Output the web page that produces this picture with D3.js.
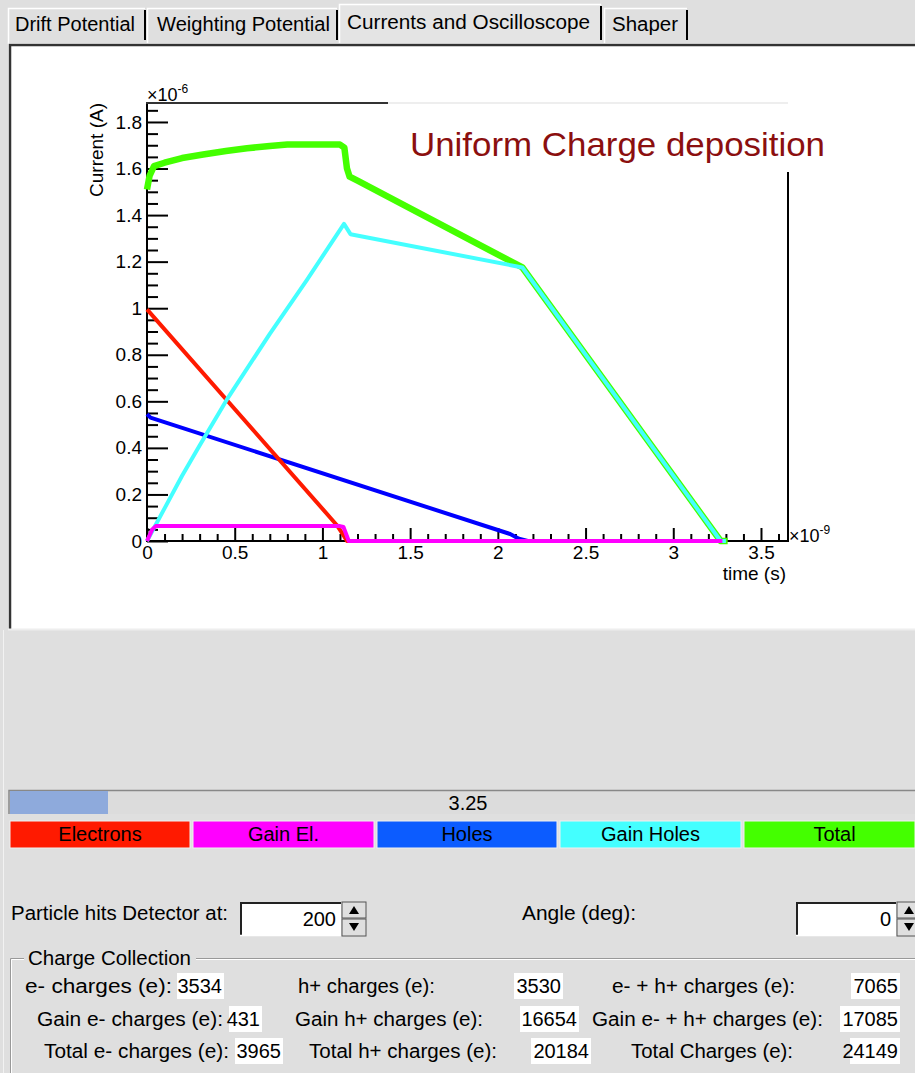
<!DOCTYPE html>
<html><head><meta charset="utf-8">
<script src="https://cdn.jsdelivr.net/npm/d3@7"></script>
<style>
html,body{margin:0;padding:0;background:#dfdfdf;}
svg{display:block;}
text{font-family:"Liberation Sans",Arial,sans-serif;}
</style></head>
<body>
<svg id="c" width="915" height="1073"></svg>
<script>
// ---------- data (time in ns, current in µA) ----------
const electrons = [[0,0.995],[1.08,0.07],[1.12,0.025],[1.14,0],[3.28,0]];
const gainEl    = [[0,0],[0.03,0.05],[0.05,0.064],[1.10,0.064],[1.12,0.06],[1.135,0.03],[1.15,0],[3.28,0]];
const holes     = [[0,0.545],[0.02,0.53],[2.07,0.03],[2.12,0.01],[2.17,0]];
const gainHoles = [[0,0],[0.1,0.14],[0.2,0.28],[0.3,0.41],[0.454,0.606],[0.7,0.89],[0.91,1.12],[1.123,1.362],[1.16,1.318],[2.14,1.175],[3.27,0],[3.30,0]];
const total     = [[0,1.51],[0.015,1.57],[0.04,1.61],[0.1,1.625],[0.2,1.645],[0.32,1.66],[0.45,1.675],[0.57,1.687],[0.7,1.697],[0.8,1.703],[1.10,1.703],[1.125,1.69],[1.14,1.60],[1.155,1.565],[1.2,1.548],[2.14,1.175],[3.27,0],[3.31,0]];

const xMajor = [0,0.5,1,1.5,2,2.5,3,3.5];
const xLabels = ["0","0.5","1","1.5","2","2.5","3","3.5"];
const yMajor = [0,0.2,0.4,0.6,0.8,1,1.2,1.4,1.6,1.8];
const yLabels = ["0","0.2","0.4","0.6","0.8","1","1.2","1.4","1.6","1.8"];

const legendNames = ["Electrons","Gain El.","Holes","Gain Holes","Total"];
const legendColors = ["#ff1a00","#ff00ff","#0c5cff","#44ffff","#44ff00"];

const tabNames = ["Drift Potential","Weighting Potential","Currents and Oscilloscope","Shaper"];

const chargeLabels = [
 ["e- charges (e):","h+ charges (e):","e- + h+ charges (e):"],
 ["Gain e- charges (e):","Gain h+ charges (e):","Gain e- + h+ charges (e):"],
 ["Total e- charges (e):","Total h+ charges (e):","Total Charges (e):"]];
const chargeValues = [["3534","3530","7065"],["431","16654","17085"],["3965","20184","24149"]];

const progressValue = "3.25";
const hitPosition = "200";
const angle = "0";
// ------------------------------------------------------

const svg = d3.select("#c");
const GUI = 20;

// tabs
const tabs = [{x:8,w:138,tx:15,tl:120},{x:147,w:191,tx:157,tl:173},{x:339,w:263,tx:347,tl:243},{x:604,w:84,tx:612,tl:66}];
tabs.forEach((t,i)=>{
  const active = i===2;
  const y0 = active?4:8;
  svg.append("rect").attr("x",t.x).attr("y",y0).attr("width",t.w).attr("height",44-y0)
    .attr("fill",active?"#e4e4e4":"#dfdfdf");
  svg.append("path").attr("d",`M${t.x+0.5},44V${y0+0.5}H${t.x+t.w-1}`).attr("fill","none").attr("stroke","#fff").attr("stroke-width",1.5);
  svg.append("path").attr("d",`M${t.x+t.w-1},${y0+2}V40`).attr("fill","none").attr("stroke","#000").attr("stroke-width",2);
  svg.append("text").attr("x",t.tx).attr("y",active?29:31)
    .attr("font-size",GUI).attr("textLength",t.tl).attr("lengthAdjust","spacingAndGlyphs").attr("fill","#000").text(tabNames[i]);
});

// canvas frame
svg.append("rect").attr("x",8).attr("y",43).attr("width",907).attr("height",586).attr("fill","#fff");
svg.append("path").attr("d","M10,629V45H915").attr("fill","none").attr("stroke","#333").attr("stroke-width",2.5);
svg.append("line").attr("x1",8).attr("x2",915).attr("y1",629.5).attr("y2",629.5).attr("stroke","#eee").attr("stroke-width",2);
svg.append("line").attr("x1",3.5).attr("x2",3.5).attr("y1",630).attr("y2",1073).attr("stroke","#f2f2f2").attr("stroke-width",1);

// plot
const X0=147, X1=788, Y0=541, Y1=103;
const x = d3.scaleLinear().domain([0,3.654]).range([X0,X1]);
const y = d3.scaleLinear().domain([0,1.8815]).range([Y0,Y1]);

const g = svg.append("g");

const xMinor = d3.range(0,37).map(i=>i/10).filter(v=>v<=3.654 && Math.abs(v*2-Math.round(v*2))>1e-6);
const yMinor = d3.range(0,38).map(i=>i*0.05).filter(v=>v<=1.88 && Math.abs(v*5-Math.round(v*5))>1e-6);

function styleAxis(sel){
  sel.select(".domain").remove();
  sel.selectAll("line").attr("stroke","#000").attr("stroke-width",2);
  sel.selectAll("text").attr("font-family","'Liberation Sans',Arial,sans-serif").attr("font-size",19).attr("fill","#000");
}
g.append("line").attr("x1",X0).attr("x2",X0).attr("y1",Y1).attr("y2",Y0+1).attr("stroke","#000").attr("stroke-width",2);
g.append("line").attr("x1",X0-1).attr("x2",X1+1).attr("y1",Y0).attr("y2",Y0).attr("stroke","#000").attr("stroke-width",2);
g.append("line").attr("x1",X0-1).attr("x2",X1).attr("y1",Y1).attr("y2",Y1).attr("stroke","#333").attr("stroke-width",2);
g.append("line").attr("x1",X1).attr("x2",X1).attr("y1",Y1).attr("y2",Y0+1).attr("stroke","#000").attr("stroke-width",2);

g.append("g").attr("transform",`translate(${X0},0)`)
  .call(d3.axisLeft(y).tickValues(yMajor).tickSize(-21).tickPadding(5).tickFormat((d,i)=>yLabels[i])).call(styleAxis);
g.append("g").attr("transform",`translate(${X0},0)`)
  .call(d3.axisLeft(y).tickValues(yMinor).tickSize(-11).tickFormat("")).call(styleAxis);
g.append("g").attr("transform",`translate(0,${Y0})`)
  .call(d3.axisBottom(x).tickValues(xMajor).tickSize(-13).tickPadding(5).tickFormat((d,i)=>xLabels[i])).call(styleAxis);
g.append("g").attr("transform",`translate(0,${Y0})`)
  .call(d3.axisBottom(x).tickValues(xMinor).tickSize(-7).tickFormat("")).call(styleAxis);

// exponents & titles
const e6 = g.append("text").attr("x",X0).attr("y",Y1-2).attr("font-size",18);
e6.append("tspan").text("×10");
e6.append("tspan").attr("font-size",12).attr("dy",-8).text("-6");
const e9 = g.append("text").attr("x",X1+1).attr("y",Y0+1).attr("font-size",18);
e9.append("tspan").text("×10");
e9.append("tspan").attr("font-size",12).attr("dy",-8).text("-9");
g.append("text").attr("x",X1-2).attr("y",580).attr("text-anchor","end").attr("font-size",19).text("time (s)");
g.append("text").attr("transform",`translate(103,${Y1}) rotate(-90)`).attr("text-anchor","end").attr("font-size",19).text("Current (A)");

// curves
const line = d3.line().x(d=>x(d[0])).y(d=>y(d[1]));
const series = [
  {d:total,c:"#44ff00",w:6.5},
  {d:holes,c:"#0000ff",w:4},
  {d:electrons,c:"#ff1a00",w:4},
  {d:gainHoles,c:"#44ffff",w:4},
  {d:gainEl,c:"#ff00ff",w:4}
];
series.forEach(s=>{
  g.append("path").datum(s.d).attr("d",line).attr("fill","none").attr("stroke",s.c)
   .attr("stroke-width",s.w).attr("stroke-linejoin","round").attr("stroke-linecap","butt");
});

// title box
g.append("rect").attr("x",388).attr("y",102).attr("width",403).attr("height",70).attr("fill","#fff");
g.append("line").attr("x1",388).attr("x2",788).attr("y1",103).attr("y2",103).attr("stroke","#e8e8e8").attr("stroke-width",1.5);
g.append("text").attr("x",410).attr("y",156).attr("font-family","'Noto Sans','DejaVu Sans',sans-serif")
  .attr("font-size",33).attr("fill","#8b0f0f").attr("textLength",415).attr("lengthAdjust","spacingAndGlyphs")
  .text("Uniform Charge deposition");

// progress bar
svg.append("rect").attr("x",9).attr("y",790).attr("width",906).attr("height",24).attr("fill","#dcdcdc");
svg.append("path").attr("d","M9,814V790.5H915").attr("fill","none").attr("stroke","#888").attr("stroke-width",1.5);
svg.append("rect").attr("x",10).attr("y",791).attr("width",98).attr("height",23).attr("fill","#8eaadc");
svg.append("text").attr("x",468).attr("y",810).attr("text-anchor","middle").attr("font-size",GUI).text(progressValue);

// legend color bars
const lx = [10,193,377,560,744];
legendNames.forEach((n,i)=>{
  const w = i<4 ? lx[i+1]-lx[i]-3 : 915-lx[i];
  svg.append("rect").attr("x",lx[i]).attr("y",821).attr("width",w).attr("height",27).attr("fill",legendColors[i])
    .attr("stroke","#f0f0f0").attr("stroke-width",1);
  svg.append("text").attr("x",lx[i]+w/2+(i===4?5:0)).attr("y",841).attr("text-anchor","middle").attr("font-size",GUI).text(n);
});

// inputs
function spinBox(x0,w,val,sx){
  svg.append("rect").attr("x",x0).attr("y",902).attr("width",w).attr("height",33).attr("fill","#fff");
  svg.append("path").attr("d",`M${x0+1},935V903H${x0+w}`).attr("fill","none").attr("stroke","#222").attr("stroke-width",2);
  svg.append("path").attr("d",`M${x0},935.5H${x0+w}`).attr("fill","none").attr("stroke","#fff").attr("stroke-width",1.5);
  svg.append("text").attr("x",x0+w-5).attr("y",926).attr("text-anchor","end").attr("font-size",GUI).text(val);
  svg.append("rect").attr("x",sx).attr("y",902).attr("width",24).attr("height",16).attr("fill","#dfdfdf").attr("stroke","#555").attr("stroke-width",1);
  svg.append("rect").attr("x",sx).attr("y",919).attr("width",24).attr("height",17).attr("fill","#dfdfdf").attr("stroke","#555").attr("stroke-width",1);
  svg.append("path").attr("d",`M${sx+7},914L${sx+12},906L${sx+17},914Z`).attr("fill","#000");
  svg.append("path").attr("d",`M${sx+7},923L${sx+12},931L${sx+17},923Z`).attr("fill","#000");
}
svg.append("text").attr("x",11).attr("y",920).attr("font-size",GUI).attr("textLength",217).attr("lengthAdjust","spacingAndGlyphs").text("Particle hits Detector at:");
spinBox(240,101,hitPosition,342);
svg.append("text").attr("x",522).attr("y",920).attr("font-size",GUI).attr("textLength",114).attr("lengthAdjust","spacingAndGlyphs").text("Angle (deg):");
spinBox(796,100,angle,897);

// group box
svg.append("path").attr("d","M915,958.5H10.5V1073").attr("fill","none").attr("stroke","#999").attr("stroke-width",1);
svg.append("path").attr("d","M915,959.5H11.5V1073").attr("fill","none").attr("stroke","#fff").attr("stroke-width",1);
svg.append("rect").attr("x",24).attr("y",946).attr("width",172).attr("height",22).attr("fill","#dfdfdf");
svg.append("text").attr("x",28).attr("y",965).attr("font-size",GUI).attr("textLength",163).attr("lengthAdjust","spacingAndGlyphs").text("Charge Collection");

const rowY = [986,1019,1051];
const labX = [[25,298,612],[37,295,592],[44,309,631]];
const labW = [[147,137,183],[186,188,231],[185,188,162]];
const boxes = [[[177,224],[514,563],[851,900]],[[229,262],[520,579],[840,900]],[[235,283],[531,591],[850,900]]];
chargeLabels.forEach((row,r)=>{
  row.forEach((lab,c)=>{
    svg.append("text").attr("x",labX[r][c]).attr("y",rowY[r]+7).attr("font-size",GUI)
      .attr("textLength",labW[r][c]).attr("lengthAdjust","spacingAndGlyphs").text(lab);
    const b = boxes[r][c];
    svg.append("rect").attr("x",b[0]).attr("y",rowY[r]-13).attr("width",b[1]-b[0]).attr("height",26).attr("fill","#fff");
    svg.append("text").attr("x",b[1]-2).attr("y",rowY[r]+7).attr("text-anchor","end").attr("font-size",GUI).text(chargeValues[r][c]);
  });
});
</script>
</body></html>
